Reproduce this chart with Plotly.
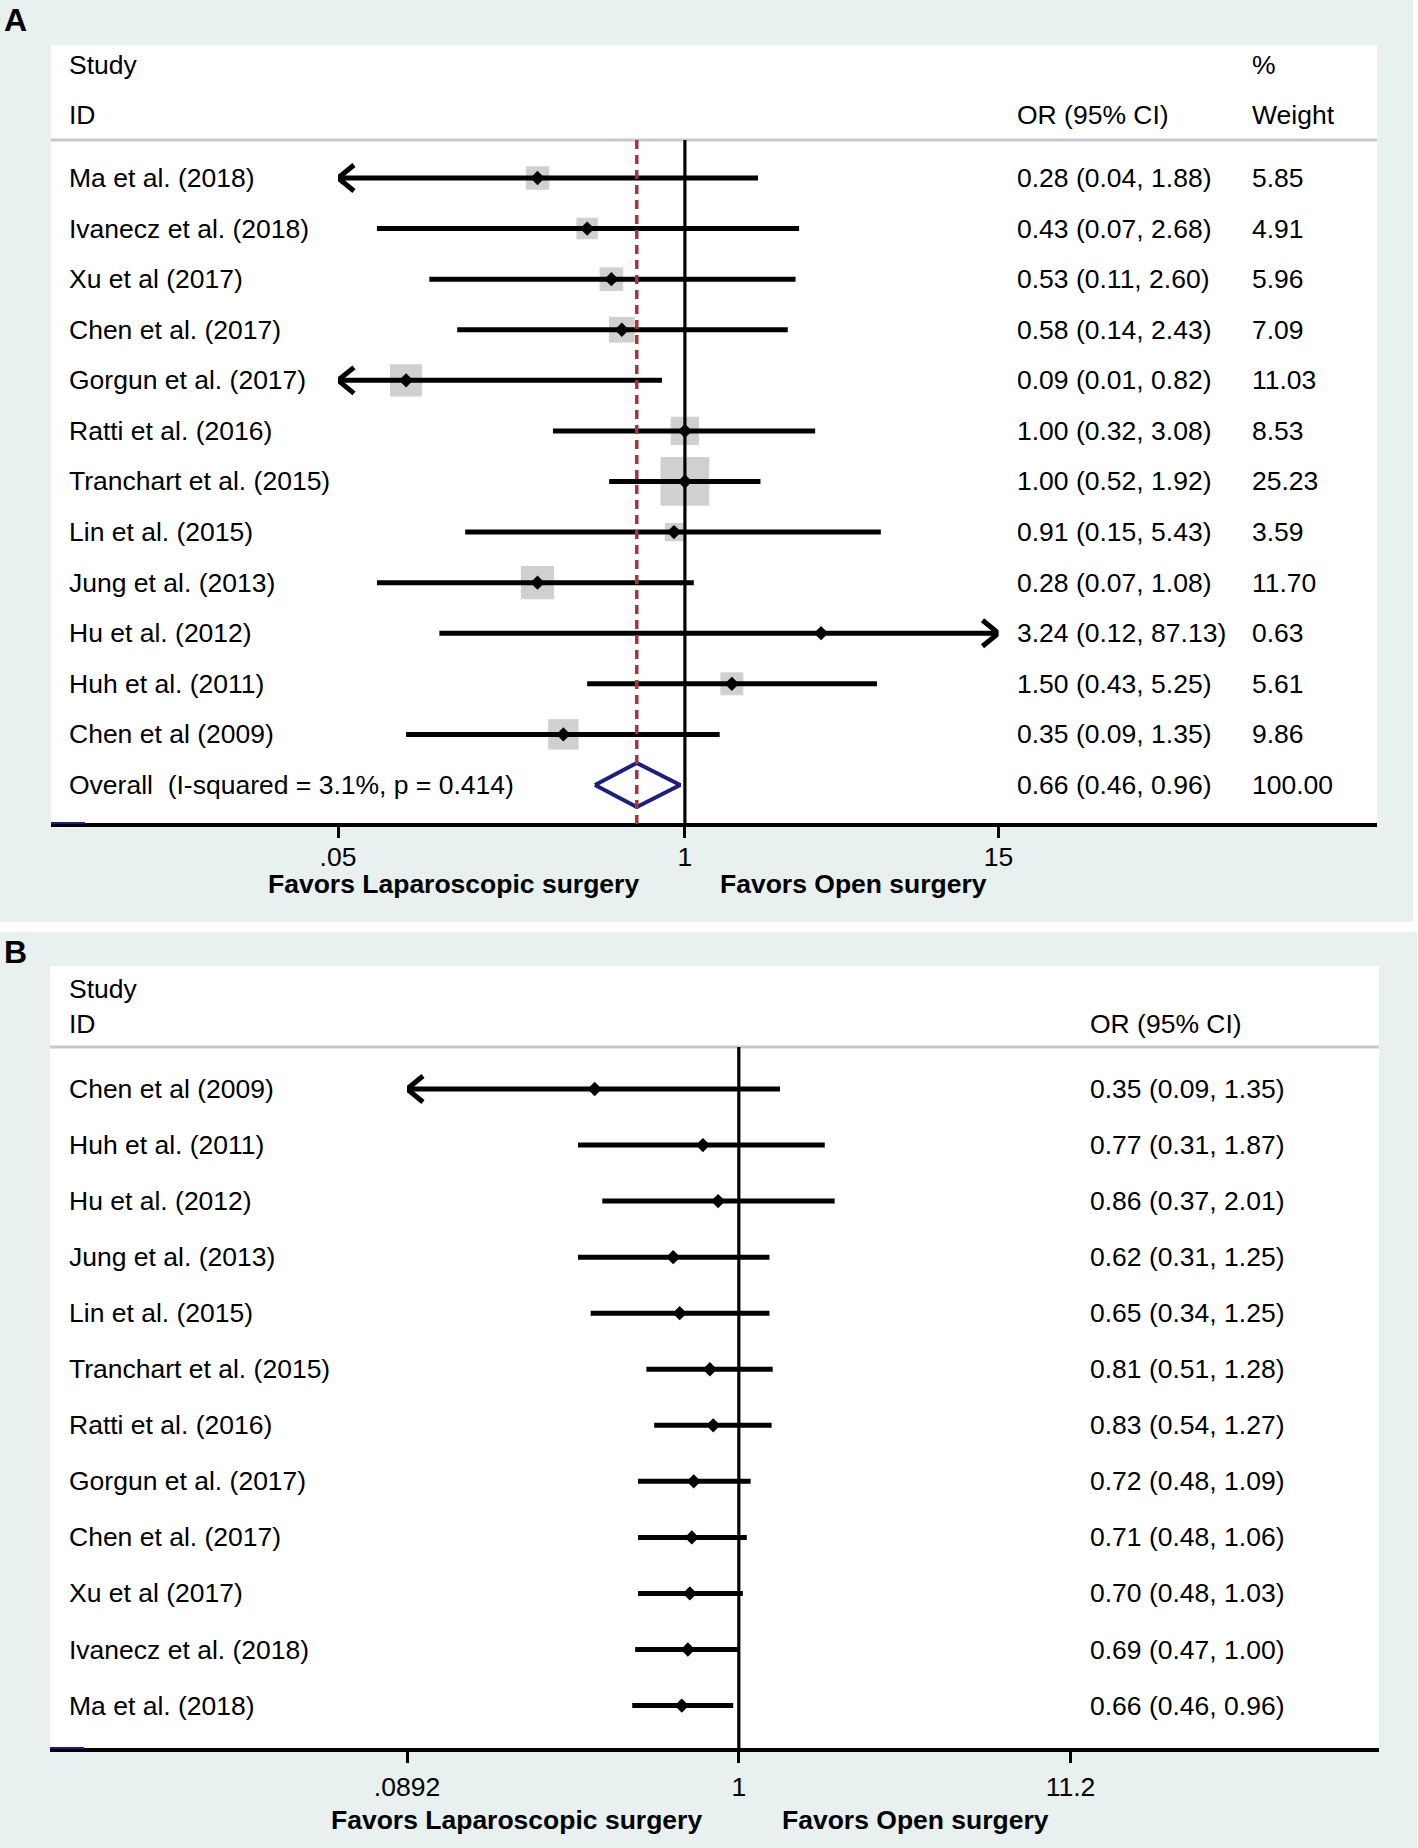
import math
import plotly.graph_objects as go

# ---------------- data ----------------
studies_A = ["Ma et al. (2018)", "Ivanecz et al. (2018)", "Xu et al (2017)", "Chen et al. (2017)",
             "Gorgun et al. (2017)", "Ratti et al. (2016)", "Tranchart et al. (2015)", "Lin et al. (2015)",
             "Jung et al. (2013)", "Hu et al. (2012)", "Huh et al. (2011)", "Chen et al (2009)"]
or_A = [0.28, 0.43, 0.53, 0.58, 0.09, 1.00, 1.00, 0.91, 0.28, 3.24, 1.50, 0.35]
lo_A = [0.04, 0.07, 0.11, 0.14, 0.01, 0.32, 0.52, 0.15, 0.07, 0.12, 0.43, 0.09]
hi_A = [1.88, 2.68, 2.60, 2.43, 0.82, 3.08, 1.92, 5.43, 1.08, 87.13, 5.25, 1.35]
weight_A = [5.85, 4.91, 5.96, 7.09, 11.03, 8.53, 25.23, 3.59, 11.70, 0.63, 5.61, 9.86]
overall_label = "Overall&nbsp; (I-squared = 3.1%, p = 0.414)"
overall_or, overall_lo, overall_hi, overall_w = 0.66, 0.46, 0.96, 100.00
ticks_A = [0.05, 1, 15]
ticktext_A = [".05", "1", "15"]

studies_B = ["Chen et al (2009)", "Huh et al. (2011)", "Hu et al. (2012)", "Jung et al. (2013)",
             "Lin et al. (2015)", "Tranchart et al. (2015)", "Ratti et al. (2016)", "Gorgun et al. (2017)",
             "Chen et al. (2017)", "Xu et al (2017)", "Ivanecz et al. (2018)", "Ma et al. (2018)"]
or_B = [0.35, 0.77, 0.86, 0.62, 0.65, 0.81, 0.83, 0.72, 0.71, 0.70, 0.69, 0.66]
lo_B = [0.0892, 0.31, 0.37, 0.31, 0.34, 0.51, 0.54, 0.48, 0.48, 0.48, 0.47, 0.46]
hi_B = [1.35, 1.87, 2.01, 1.25, 1.25, 1.28, 1.27, 1.09, 1.06, 1.03, 1.00, 0.96]
ticks_B = [0.0892, 1, 11.2]
ticktext_B = [".0892", "1", "11.2"]

# ---------------- layout constants (pixels) ----------------
W, H = 1418, 1848
FONT = "Liberation Sans, Arial, Helvetica, sans-serif"
FS = 26.5
BG = "#e8f0f0"
NAVY = "#1c1f7c"

def px(x):
    return x / W

def py(y):
    return 1 - y / H

# Panel A geometry
A_row0, A_step = 178.0, 50.58
A_top, A_axis = 45.0, 825.0
A_xdom = (338.0, 998.5)
A_hdr = 140.0
# Panel B geometry
B_row0, B_step = 1089.0, 56.05
B_top, B_axis = 966.0, 1750.0
B_xdom = (407.0, 1070.5)
B_hdr = 1047.0

def row_of(ypx, row0, step):
    return (ypx - row0) / step

fig = go.Figure()

shapes = []
annotations = []

# backgrounds
shapes += [
    dict(type="rect", xref="paper", yref="paper", x0=0, x1=px(1413), y0=py(0), y1=py(922),
         fillcolor=BG, line_width=0, layer="below"),
    dict(type="rect", xref="paper", yref="paper", x0=0, x1=px(1417), y0=py(932), y1=py(H),
         fillcolor=BG, line_width=0, layer="below"),
    dict(type="rect", xref="paper", yref="paper", x0=px(51), x1=px(1377), y0=py(A_top), y1=py(A_axis),
         fillcolor="white", line_width=0, layer="below"),
    dict(type="rect", xref="paper", yref="paper", x0=px(50), x1=px(1379), y0=py(B_top), y1=py(B_axis),
         fillcolor="white", line_width=0, layer="below"),
]


def panel(xa, ya, studies, ors, los, his, weights, xmin, xmax, row0, step, hdr_px, axis_px,
          left_white, right_white, ppd, show_squares, or_col, w_col):
    xr = "x" if xa == "xaxis" else "x2"
    yr = "y" if ya == "yaxis" else "y2"
    n = len(studies)
    rows = list(range(n))
    hdr_row = row_of(hdr_px, row0, step)
    axis_row = row_of(axis_px, row0, step)

    # header separator line
    shapes.append(dict(type="line", xref="paper", yref="paper", x0=px(left_white), x1=px(right_white),
                       y0=py(hdr_px), y1=py(hdr_px), line=dict(color="#c6c6d4", width=3)))
    # axis line
    shapes.append(dict(type="line", xref="paper", yref="paper", x0=px(left_white), x1=px(right_white),
                       y0=py(axis_px), y1=py(axis_px), line=dict(color="black", width=4)))
    shapes.append(dict(type="line", xref="paper", yref="paper", x0=px(left_white), x1=px(left_white + 34),
                       y0=py(axis_px - 2), y1=py(axis_px - 2), line=dict(color=NAVY, width=2)))
    # null line
    shapes.append(dict(type="line", xref=xr, yref=yr, x0=1, x1=1, y0=hdr_row, y1=axis_row,
                       line=dict(color="black", width=3.2)))

    # squares
    if show_squares:
        fig.add_trace(go.Scatter(x=ors, y=rows, mode="markers", xaxis=xr, yaxis=yr,
                                 marker=dict(symbol="square", size=[9.7 * math.sqrt(w) for w in weights],
                                             color="#bcbcbc", line_width=0),
                                 hoverinfo="skip", showlegend=False))
    # CI lines + arrows
    lx, ly = [], []
    ax_, ay_ = [], []
    dlog = 16.0 / ppd
    half = 13.0 / step
    for i in rows:
        a = max(los[i], xmin)
        b = min(his[i], xmax)
        lx += [a, b, None]
        ly += [i, i, None]
        if los[i] <= xmin:
            xt = 10 ** (math.log10(a) + dlog)
            ax_ += [xt, a, xt, None]
            ay_ += [i - half, i, i + half, None]
        if his[i] >= xmax:
            xt = 10 ** (math.log10(b) - dlog)
            ax_ += [xt, b, xt, None]
            ay_ += [i - half, i, i + half, None]
    fig.add_trace(go.Scatter(x=lx, y=ly, mode="lines", xaxis=xr, yaxis=yr,
                             line=dict(color="black", width=5), hoverinfo="skip", showlegend=False))
    fig.add_trace(go.Scatter(x=ax_, y=ay_, mode="lines", xaxis=xr, yaxis=yr,
                             line=dict(color="black", width=5), hoverinfo="skip", showlegend=False))
    # point estimates
    fig.add_trace(go.Scatter(x=ors, y=rows, mode="markers", xaxis=xr, yaxis=yr,
                             marker=dict(symbol="diamond", size=11, color="black", line_width=0),
                             hoverinfo="skip", showlegend=False))

    # text columns
    for i in rows:
        annotations.append(dict(xref="paper", yref=yr, x=px(67), y=i, text=studies[i], showarrow=False,
                                xanchor="left", yanchor="middle", font=dict(size=FS, color="black", family=FONT)))
        annotations.append(dict(xref="paper", yref=yr, x=px(or_col), y=i,
                                text="%.2f (%.2f, %.2f)" % (ors[i], los[i], his[i]), showarrow=False,
                                xanchor="left", yanchor="middle", font=dict(size=FS, color="black", family=FONT)))
        if w_col is not None:
            annotations.append(dict(xref="paper", yref=yr, x=px(w_col), y=i, text="%.2f" % weights[i],
                                    showarrow=False, xanchor="left", yanchor="middle",
                                    font=dict(size=FS, color="black", family=FONT)))
    return hdr_row, axis_row


hA, aA = panel("xaxis", "yaxis", studies_A, or_A, lo_A, hi_A, weight_A, ticks_A[0], ticks_A[-1],
               A_row0, A_step, A_hdr, A_axis, 51, 1377, (A_xdom[1] - A_xdom[0]) / math.log10(ticks_A[-1] / ticks_A[0]),
               True, 1015, 1250)
hB, aB = panel("xaxis2", "yaxis2", studies_B, or_B, lo_B, hi_B, None, ticks_B[0], ticks_B[-1],
               B_row0, B_step, B_hdr, B_axis, 50, 1379, (B_xdom[1] - B_xdom[0]) / math.log10(ticks_B[-1] / ticks_B[0]),
               False, 1088, None)

# Overall row (panel A)
ov = len(studies_A)
dh = 22.0 / A_step
fig.add_trace(go.Scatter(x=[overall_lo, overall_or, overall_hi, overall_or, overall_lo],
                         y=[ov, ov - dh, ov, ov + dh, ov], mode="lines", xaxis="x", yaxis="y",
                         line=dict(color=NAVY, width=4), hoverinfo="skip", showlegend=False))
shapes.append(dict(type="line", xref="x", yref="y", x0=overall_or, x1=overall_or, y0=hA, y1=aA,
                   line=dict(color="#a8343c", width=3.5, dash="9px,6px")))
annotations += [
    dict(xref="paper", yref="y", x=px(67), y=ov, text=overall_label, showarrow=False, xanchor="left",
         yanchor="middle", font=dict(size=FS, color="black", family=FONT)),
    dict(xref="paper", yref="y", x=px(1015), y=ov, text="%.2f (%.2f, %.2f)" % (overall_or, overall_lo, overall_hi),
         showarrow=False, xanchor="left", yanchor="middle", font=dict(size=FS, color="black", family=FONT)),
    dict(xref="paper", yref="y", x=px(1250), y=ov, text="%.2f" % overall_w, showarrow=False, xanchor="left",
         yanchor="middle", font=dict(size=FS, color="black", family=FONT)),
]

# headers
def hdr(text, x, ypx):
    annotations.append(dict(xref="paper", yref="paper", x=px(x), y=py(ypx), text=text, showarrow=False,
                            xanchor="left", yanchor="middle", font=dict(size=FS, color="black", family=FONT)))

hdr("Study", 67, 65)
hdr("ID", 67, 115)
hdr("OR (95% CI)", 1015, 115)
hdr("%", 1250, 65)
hdr("Weight", 1250, 115)
hdr("Study", 67, 989)
hdr("ID", 67, 1024)
hdr("OR (95% CI)", 1088, 1024)

# favors labels
bold = dict(size=FS, color="black", family=FONT)
annotations += [
    dict(xref="paper", yref="paper", x=px(641), y=py(884), text="<b>Favors Laparoscopic surgery</b>",
         showarrow=False, xanchor="right", yanchor="middle", font=bold),
    dict(xref="paper", yref="paper", x=px(718), y=py(884), text="<b>Favors Open surgery</b>",
         showarrow=False, xanchor="left", yanchor="middle", font=bold),
    dict(xref="paper", yref="paper", x=px(704), y=py(1820), text="<b>Favors Laparoscopic surgery</b>",
         showarrow=False, xanchor="right", yanchor="middle", font=bold),
    dict(xref="paper", yref="paper", x=px(780), y=py(1820), text="<b>Favors Open surgery</b>",
         showarrow=False, xanchor="left", yanchor="middle", font=bold),
    dict(xref="paper", yref="paper", x=px(2), y=py(20), text="<b>A</b>", showarrow=False,
         xanchor="left", yanchor="middle", font=dict(size=32, color="black", family=FONT)),
    dict(xref="paper", yref="paper", x=px(2), y=py(952), text="<b>B</b>", showarrow=False,
         xanchor="left", yanchor="middle", font=dict(size=32, color="black", family=FONT)),
]

axis_common = dict(type="log", showgrid=False, zeroline=False, showline=False, ticks="outside",
                   ticklen=12, tickwidth=3, tickcolor="black",
                   tickfont=dict(size=FS, color="black", family=FONT), fixedrange=True)

fig.update_layout(
    width=W, height=H, margin=dict(l=0, r=0, t=0, b=0, pad=0, autoexpand=False),
    paper_bgcolor="white", plot_bgcolor="rgba(0,0,0,0)", showlegend=False,
    xaxis=dict(domain=[px(A_xdom[0]), px(A_xdom[1])], anchor="y",
               range=[math.log10(ticks_A[0]), math.log10(ticks_A[-1])],
               tickvals=ticks_A, ticktext=ticktext_A, ticklabelstandoff=-4, **axis_common),
    yaxis=dict(domain=[py(A_axis), py(A_top)], anchor="x", range=[aA, row_of(A_top, A_row0, A_step)],
               visible=False, fixedrange=True),
    xaxis2=dict(domain=[px(B_xdom[0]), px(B_xdom[1])], anchor="y2",
                range=[math.log10(ticks_B[0]), math.log10(ticks_B[-1])],
                tickvals=ticks_B, ticktext=ticktext_B, ticklabelstandoff=1, **axis_common),
    yaxis2=dict(domain=[py(B_axis), py(B_top)], anchor="x2", range=[aB, row_of(B_top, B_row0, B_step)],
                visible=False, fixedrange=True),
    shapes=shapes, annotations=annotations,
)

fig.write_html("out.html", config={"responsive": False, "displayModeBar": False},
               post_script="document.body.style.margin='0';document.body.style.padding='0';")
